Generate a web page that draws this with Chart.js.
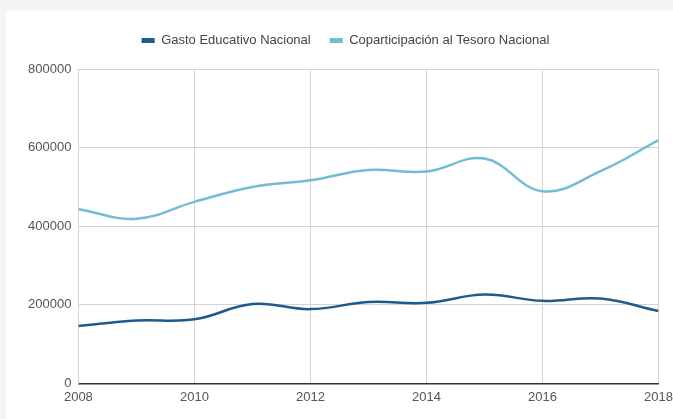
<!DOCTYPE html>
<html>
<head>
<meta charset="utf-8">
<script src="https://cdn.jsdelivr.net/npm/chart.js@4"></script>
<style>
    html, body { margin: 0; padding: 0; background: #f5f5f5; width: 673px; height: 419px; overflow: hidden; }
    #card { position: absolute; left: 6px; top: 11px; width: 667px; height: 408px; background: #fff; overflow: visible; }
</style>
</head>
<body>
<div id="card"><canvas id="chart-gasto" width="673" height="408"></canvas></div>
<script>
// data
const years = [2008, 2009, 2010, 2011, 2012, 2013, 2014, 2015, 2016, 2017, 2018];
const gastoEducativo = [146000, 160000, 163000, 202000, 189000, 207000, 205000, 226000, 210000, 216000, 184000];
const coparticipacion = [443000, 419000, 462000, 500000, 517000, 543000, 539000, 572000, 489000, 540000, 619000];
const seriesNames = ['Gasto Educativo Nacional', 'Coparticipación al Tesoro Nacional'];

Chart.defaults.font.family = '"Liberation Sans", Arial, sans-serif';
Chart.defaults.font.size = 13;
Chart.defaults.color = '#555';

const toPoints = vals => vals.map((v, i) => ({ x: years[i], y: v }));

const legendGap = {
    id: 'legendGap',
    beforeInit(chart) {
        const fit = chart.legend.fit;
        chart.legend.fit = function () {
            fit.bind(chart.legend)();
            this.height += 12;
        };
    }
};

new Chart(document.getElementById('chart-gasto'), {
    type: 'line',
    data: {
        datasets: [{
            label: seriesNames[0],
            data: toPoints(gastoEducativo),
            borderColor: '#1d5a8e',
            backgroundColor: '#1d5a8e',
            borderWidth: 2.5,
            pointRadius: 0,
            tension: 0.4
        }, {
            label: seriesNames[1],
            data: toPoints(coparticipacion),
            borderColor: '#72bcd4',
            backgroundColor: '#72bcd4',
            borderWidth: 2.5,
            pointRadius: 0,
            tension: 0.4
        }]
    },
    options: {
        responsive: false,
        animation: false,
        layout: { padding: { top: 4, left: 15, right: 9, bottom: 8 } },
        plugins: {
            tooltip: { enabled: false },
            legend: {
                position: 'top',
                labels: {
                    boxWidth: 13,
                    boxHeight: 5,
                    padding: 19,
                    color: '#444',
                    generateLabels(chart) {
                        return Chart.defaults.plugins.legend.labels.generateLabels(chart)
                            .map(l => ({ ...l, lineWidth: 0 }));
                    }
                }
            }
        },
        scales: {
            x: {
                type: 'linear',
                min: 2008,
                max: 2018,
                ticks: { stepSize: 2, padding: 6, callback: v => String(v) },
                grid: { color: '#d4d4d4', drawTicks: false },
                border: { color: '#333', width: 1.5 }
            },
            y: {
                min: 0,
                max: 800000,
                ticks: { stepSize: 200000, padding: 7, callback: v => String(v) },
                grid: { color: '#d4d4d4', drawTicks: false },
                border: { color: '#d4d4d4' }
            }
        }
    },
    plugins: [legendGap]
});
</script>
</body>
</html>
